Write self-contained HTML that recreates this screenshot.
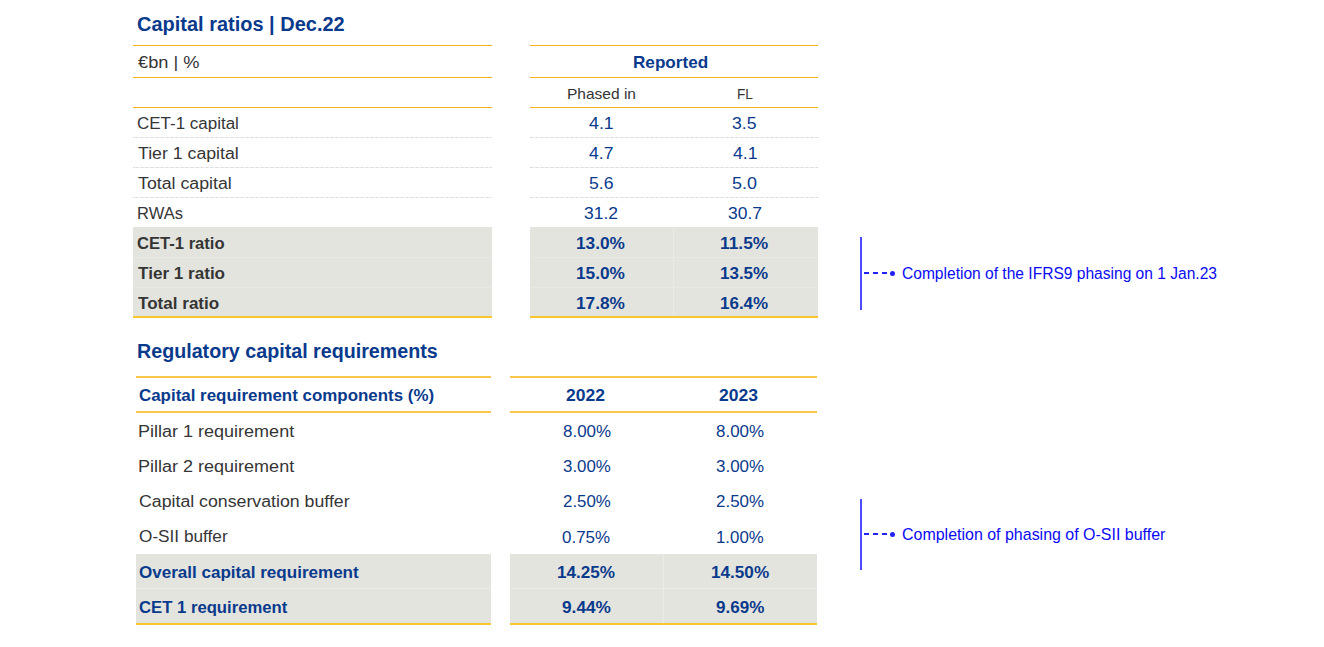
<!DOCTYPE html>
<html><head><meta charset="utf-8"><title>Capital ratios</title>
<style>
html,body{margin:0;padding:0;background:#fff;}
body{width:1324px;height:647px;position:relative;overflow:hidden;font-family:'Liberation Sans', sans-serif;}
body>div{position:absolute;}
.t{white-space:nowrap;transform-origin:0 0;}
</style></head><body>
<div style="left:132.50px;top:45.00px;width:359.50px;height:1.20px;background:#f7b21e;"></div>
<div style="left:132.50px;top:77.00px;width:359.50px;height:1.20px;background:#f7b21e;"></div>
<div style="left:132.50px;top:107.00px;width:359.50px;height:1.20px;background:#f7b21e;"></div>
<div style="left:132.5px;top:137px;width:359.5px;height:1px;background:repeating-linear-gradient(90deg,#dcdcdc 0 3px,#f3f3f3 3px 5px);background-position:2.5px 0"></div>
<div style="left:132.5px;top:167px;width:359.5px;height:1px;background:repeating-linear-gradient(90deg,#dcdcdc 0 3px,#f3f3f3 3px 5px);background-position:2.5px 0"></div>
<div style="left:132.5px;top:197px;width:359.5px;height:1px;background:repeating-linear-gradient(90deg,#dcdcdc 0 3px,#f3f3f3 3px 5px);background-position:2.5px 0"></div>
<div style="left:132.50px;top:227.00px;width:359.50px;height:89.00px;background:#e4e4df;"></div>
<div style="left:132.50px;top:257.00px;width:359.50px;height:1.00px;background:#e8e8e4;"></div>
<div style="left:132.50px;top:287.00px;width:359.50px;height:1.00px;background:#e8e8e4;"></div>
<div style="left:132.50px;top:316.00px;width:359.50px;height:2.00px;background:#f9c62e;"></div>
<div style="left:530.00px;top:45.00px;width:288.00px;height:1.20px;background:#f7b21e;"></div>
<div style="left:530.00px;top:77.00px;width:288.00px;height:1.20px;background:#f7b21e;"></div>
<div style="left:530.00px;top:107.00px;width:288.00px;height:1.20px;background:#f7b21e;"></div>
<div style="left:530px;top:137px;width:288px;height:1px;background:repeating-linear-gradient(90deg,#dcdcdc 0 3px,#f3f3f3 3px 5px);background-position:0.5px 0"></div>
<div style="left:530px;top:167px;width:288px;height:1px;background:repeating-linear-gradient(90deg,#dcdcdc 0 3px,#f3f3f3 3px 5px);background-position:0.5px 0"></div>
<div style="left:530px;top:197px;width:288px;height:1px;background:repeating-linear-gradient(90deg,#dcdcdc 0 3px,#f3f3f3 3px 5px);background-position:0.5px 0"></div>
<div style="left:530.00px;top:227.00px;width:288.00px;height:89.00px;background:#e4e4df;"></div>
<div style="left:530.00px;top:257.00px;width:288.00px;height:1.00px;background:#e8e8e4;"></div>
<div style="left:530.00px;top:287.00px;width:288.00px;height:1.00px;background:#e8e8e4;"></div>
<div style="left:530.00px;top:316.00px;width:288.00px;height:2.00px;background:#f9c62e;"></div>
<div style="left:673.00px;top:227.00px;width:1.00px;height:89.00px;background:#eaeae7;"></div>
<div style="left:136.00px;top:376.20px;width:355.00px;height:1.80px;background:#f9c84a;"></div>
<div style="left:136.00px;top:411.40px;width:355.00px;height:1.60px;background:#f9c84a;"></div>
<div style="left:136.00px;top:553.50px;width:355.00px;height:69.70px;background:#e4e4df;"></div>
<div style="left:136.00px;top:588.00px;width:355.00px;height:1.00px;background:#ebebe8;"></div>
<div style="left:136.00px;top:623.20px;width:355.00px;height:1.80px;background:#f9c62e;"></div>
<div style="left:510.00px;top:376.20px;width:307.00px;height:1.80px;background:#f9c84a;"></div>
<div style="left:510.00px;top:411.40px;width:307.00px;height:1.60px;background:#f9c84a;"></div>
<div style="left:510.00px;top:553.50px;width:307.00px;height:69.70px;background:#e4e4df;"></div>
<div style="left:510.00px;top:588.00px;width:307.00px;height:1.00px;background:#ebebe8;"></div>
<div style="left:510.00px;top:623.20px;width:307.00px;height:1.80px;background:#f9c62e;"></div>
<div style="left:663.00px;top:553.50px;width:1.00px;height:69.70px;background:#ebebe8;"></div>
<div style="left:860.00px;top:237.00px;width:2.00px;height:72.50px;background:#4a4aff;"></div>
<div style="left:864.00px;top:272.45px;width:5.00px;height:1.50px;background:#2222f2;"></div>
<div style="left:873.00px;top:272.45px;width:5.00px;height:1.50px;background:#2222f2;"></div>
<div style="left:882.00px;top:272.45px;width:5.00px;height:1.50px;background:#2222f2;"></div>
<div style="left:889.60px;top:270.60px;width:5.2px;height:5.2px;border-radius:50%;background:#2222f2"></div>
<div style="left:860.00px;top:498.60px;width:2.00px;height:71.90px;background:#4a4aff;"></div>
<div style="left:864.00px;top:533.45px;width:5.00px;height:1.50px;background:#2222f2;"></div>
<div style="left:873.00px;top:533.45px;width:5.00px;height:1.50px;background:#2222f2;"></div>
<div style="left:882.00px;top:533.45px;width:5.00px;height:1.50px;background:#2222f2;"></div>
<div style="left:889.60px;top:531.60px;width:5.2px;height:5.2px;border-radius:50%;background:#2222f2"></div>
<div class="t" style="left:137.26px;top:14.00px;font-size:20.35px;line-height:20.35px;font-weight:bold;color:#0a3a8c;transform:scaleX(0.9819)">Capital ratios | Dec.22</div>
<div class="t" style="left:138.24px;top:54.00px;font-size:17.30px;line-height:17.30px;color:#353535;transform:scaleX(1.0557)">€bn | %</div>
<div class="t" style="left:633.24px;top:54.00px;font-size:17.01px;line-height:17.01px;font-weight:bold;color:#0a3a8c;transform:scaleX(1.0076)">Reported</div>
<div class="t" style="left:566.84px;top:86.00px;font-size:15.41px;line-height:15.41px;color:#353535;transform:scaleX(1.0068)">Phased in</div>
<div class="t" style="left:736.79px;top:86.00px;font-size:15.41px;line-height:15.41px;color:#353535;transform:scaleX(0.8862)">FL</div>
<div class="t" style="left:137.22px;top:115.00px;font-size:17.30px;line-height:17.30px;color:#353535;transform:scaleX(0.9823)">CET-1 capital</div>
<div class="t" style="left:137.69px;top:145.00px;font-size:17.30px;line-height:17.30px;color:#353535;transform:scaleX(1.0253)">Tier 1 capital</div>
<div class="t" style="left:137.69px;top:175.00px;font-size:17.30px;line-height:17.30px;color:#353535;transform:scaleX(1.0273)">Total capital</div>
<div class="t" style="left:136.77px;top:205.00px;font-size:17.30px;line-height:17.30px;color:#353535;transform:scaleX(0.9565)">RWAs</div>
<div class="t" style="left:137.35px;top:236.00px;font-size:16.72px;line-height:16.72px;font-weight:bold;color:#353535;transform:scaleX(0.9937)">CET-1 ratio</div>
<div class="t" style="left:137.84px;top:266.00px;font-size:16.72px;line-height:16.72px;font-weight:bold;color:#353535;transform:scaleX(1.0231)">Tier 1 ratio</div>
<div class="t" style="left:137.84px;top:296.00px;font-size:16.72px;line-height:16.72px;font-weight:bold;color:#353535;transform:scaleX(1.0217)">Total ratio</div>
<div class="t" style="left:588.59px;top:115.00px;font-size:17.30px;line-height:17.30px;color:#0a3a8c;transform:scaleX(1.0286)">4.1</div>
<div class="t" style="left:732.44px;top:115.00px;font-size:17.30px;line-height:17.30px;color:#0a3a8c;transform:scaleX(1.0178)">3.5</div>
<div class="t" style="left:588.69px;top:145.00px;font-size:17.30px;line-height:17.30px;color:#0a3a8c;transform:scaleX(1.0198)">4.7</div>
<div class="t" style="left:732.59px;top:145.00px;font-size:17.30px;line-height:17.30px;color:#0a3a8c;transform:scaleX(1.0242)">4.1</div>
<div class="t" style="left:588.74px;top:175.00px;font-size:17.30px;line-height:17.30px;color:#0a3a8c;transform:scaleX(1.0178)">5.6</div>
<div class="t" style="left:732.32px;top:175.00px;font-size:17.30px;line-height:17.30px;color:#0a3a8c;transform:scaleX(1.0356)">5.0</div>
<div class="t" style="left:583.84px;top:205.00px;font-size:17.30px;line-height:17.30px;color:#0a3a8c;transform:scaleX(1.0125)">31.2</div>
<div class="t" style="left:727.74px;top:205.00px;font-size:17.30px;line-height:17.30px;color:#0a3a8c;transform:scaleX(1.0125)">30.7</div>
<div class="t" style="left:576.37px;top:236.00px;font-size:16.72px;line-height:16.72px;font-weight:bold;color:#0a3a8c;transform:scaleX(1.0326)">13.0%</div>
<div class="t" style="left:720.36px;top:236.00px;font-size:16.72px;line-height:16.72px;font-weight:bold;color:#0a3a8c;transform:scaleX(1.0400)">11.5%</div>
<div class="t" style="left:576.37px;top:266.00px;font-size:16.72px;line-height:16.72px;font-weight:bold;color:#0a3a8c;transform:scaleX(1.0326)">15.0%</div>
<div class="t" style="left:720.38px;top:266.00px;font-size:16.72px;line-height:16.72px;font-weight:bold;color:#0a3a8c;transform:scaleX(1.0174)">13.5%</div>
<div class="t" style="left:576.37px;top:296.00px;font-size:16.72px;line-height:16.72px;font-weight:bold;color:#0a3a8c;transform:scaleX(1.0326)">17.8%</div>
<div class="t" style="left:720.38px;top:296.00px;font-size:16.72px;line-height:16.72px;font-weight:bold;color:#0a3a8c;transform:scaleX(1.0174)">16.4%</div>
<div class="t" style="left:901.56px;top:266.00px;font-size:15.84px;line-height:15.84px;color:#0a0af5;transform:scaleX(0.9834)">Completion of the IFRS9 phasing on 1 Jan.23</div>
<div class="t" style="left:137.36px;top:342.00px;font-size:19.77px;line-height:19.77px;font-weight:bold;color:#0a3a8c;transform:scaleX(0.9957)">Regulatory capital requirements</div>
<div class="t" style="left:139.03px;top:388.00px;font-size:16.57px;line-height:16.57px;font-weight:bold;color:#0a3a8c;transform:scaleX(1.0212)">Capital requirement components (%)</div>
<div class="t" style="left:565.97px;top:388.00px;font-size:16.57px;line-height:16.57px;font-weight:bold;color:#0a3a8c;transform:scaleX(1.0573)">2022</div>
<div class="t" style="left:719.27px;top:388.00px;font-size:16.57px;line-height:16.57px;font-weight:bold;color:#0a3a8c;transform:scaleX(1.0573)">2023</div>
<div class="t" style="left:138.44px;top:423.00px;font-size:17.30px;line-height:17.30px;color:#353535;transform:scaleX(1.0422)">Pillar 1 requirement</div>
<div class="t" style="left:138.44px;top:458.00px;font-size:17.30px;line-height:17.30px;color:#353535;transform:scaleX(1.0422)">Pillar 2 requirement</div>
<div class="t" style="left:138.97px;top:493.00px;font-size:17.30px;line-height:17.30px;color:#353535;transform:scaleX(1.0260)">Capital conservation buffer</div>
<div class="t" style="left:139.25px;top:528.00px;font-size:17.30px;line-height:17.30px;color:#353535;transform:scaleX(0.9955)">O-SII buffer</div>
<div class="t" style="left:138.74px;top:565.00px;font-size:16.86px;line-height:16.86px;font-weight:bold;color:#0a3a8c;transform:scaleX(1.0106)">Overall capital requirement</div>
<div class="t" style="left:138.76px;top:600.00px;font-size:16.86px;line-height:16.86px;font-weight:bold;color:#0a3a8c;transform:scaleX(0.9893)">CET 1 requirement</div>
<div class="t" style="left:562.56px;top:423.00px;font-size:17.30px;line-height:17.30px;color:#0a3a8c;transform:scaleX(0.9801)">8.00%</div>
<div class="t" style="left:715.86px;top:423.00px;font-size:17.30px;line-height:17.30px;color:#0a3a8c;transform:scaleX(0.9801)">8.00%</div>
<div class="t" style="left:562.77px;top:458.00px;font-size:17.30px;line-height:17.30px;color:#0a3a8c;transform:scaleX(0.9759)">3.00%</div>
<div class="t" style="left:715.86px;top:458.00px;font-size:17.30px;line-height:17.30px;color:#0a3a8c;transform:scaleX(0.9801)">3.00%</div>
<div class="t" style="left:562.77px;top:493.00px;font-size:17.30px;line-height:17.30px;color:#0a3a8c;transform:scaleX(0.9759)">2.50%</div>
<div class="t" style="left:715.86px;top:493.00px;font-size:17.30px;line-height:17.30px;color:#0a3a8c;transform:scaleX(0.9801)">2.50%</div>
<div class="t" style="left:562.46px;top:529.00px;font-size:17.30px;line-height:17.30px;color:#0a3a8c;transform:scaleX(0.9801)">0.75%</div>
<div class="t" style="left:715.98px;top:529.00px;font-size:17.30px;line-height:17.30px;color:#0a3a8c;transform:scaleX(0.9735)">1.00%</div>
<div class="t" style="left:557.28px;top:565.00px;font-size:16.86px;line-height:16.86px;font-weight:bold;color:#0a3a8c;transform:scaleX(1.0152)">14.25%</div>
<div class="t" style="left:710.88px;top:565.00px;font-size:16.86px;line-height:16.86px;font-weight:bold;color:#0a3a8c;transform:scaleX(1.0170)">14.50%</div>
<div class="t" style="left:562.29px;top:600.00px;font-size:16.86px;line-height:16.86px;font-weight:bold;color:#0a3a8c;transform:scaleX(1.0246)">9.44%</div>
<div class="t" style="left:715.99px;top:600.00px;font-size:16.86px;line-height:16.86px;font-weight:bold;color:#0a3a8c;transform:scaleX(1.0118)">9.69%</div>
<div class="t" style="left:901.95px;top:527.00px;font-size:15.99px;line-height:15.99px;color:#0a0af5;transform:scaleX(0.9992)">Completion of phasing of O-SII buffer</div>
</body></html>
